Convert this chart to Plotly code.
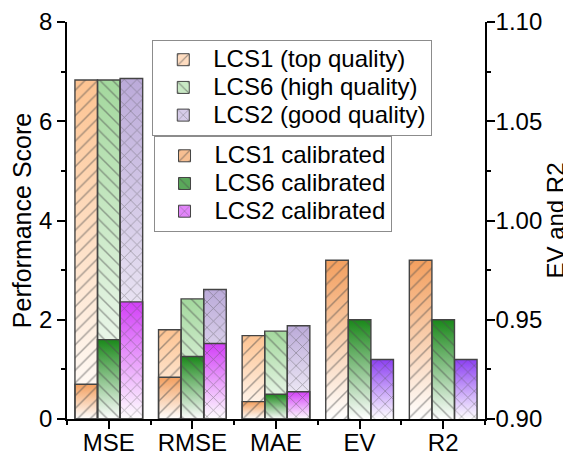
import plotly.graph_objects as go

# ---------------- data ----------------
categories = ["MSE", "RMSE", "MAE", "EV", "R2"]
error_idx = [0, 1, 2]          # MSE, RMSE, MAE -> left axis
fit_idx = [3, 4]               # EV, R2 -> right axis

raw_labels = ["LCS1 (top quality)", "LCS6 (high quality)", "LCS2 (good quality)"]
cal_labels = ["LCS1 calibrated", "LCS6 calibrated", "LCS2 calibrated"]

raw_lcs1 = [6.83, 1.80, 1.68]
raw_lcs6 = [6.83, 2.42, 1.77]
raw_lcs2 = [6.86, 2.61, 1.88]

cal_lcs1 = [0.70, 0.84, 0.35]
cal_lcs6 = [1.60, 1.26, 0.50]
cal_lcs2 = [2.36, 1.52, 0.55]

fit_lcs1 = [0.98, 0.98]
fit_lcs6 = [0.95, 0.95]
fit_lcs2 = [0.93, 0.93]

left_ticks = [0, 2, 4, 6, 8]
right_ticks = [0.90, 0.95, 1.00, 1.05, 1.10]

raw_series = [raw_lcs1, raw_lcs6, raw_lcs2]
cal_series = [cal_lcs1, cal_lcs6, cal_lcs2]
fit_series = [fit_lcs1, fit_lcs6, fit_lcs2]

# ---------------- style ----------------
FONT = "Liberation Sans, Arial, sans-serif"
raw_colors = ["#fdc391", "#a3d89d", "#bbaad9"]
raw_legend_colors = ["#fedcc0", "#c8e8c4", "#d6cce9"]
cal_colors = ["#f39f5e", "#1a881a", "#d23ff7"]
cal_legend_colors = ["#f7bf92", "#5aa85a", "#e285fa"]
fit_colors = ["#f39f5e", "#1a881a", "#8c3ff2"]
patterns = ["/", "\\", "x"]
EDGE = "#444444"
HATCH = "#4d4d4d"
BAR_W = 0.27
offsets = [-1.5 * BAR_W + i * BAR_W for i in range(3)]
LEFT_FLOOR = left_ticks[0]
RIGHT_FLOOR = right_ticks[0]


def gradient_trace(xc, off, top, base, color, yaxis):
    x0 = xc + off
    x1 = x0 + BAR_W
    return go.Scatter(
        x=[x0, x1, x1, x0, x0], y=[base, base, top, top, base],
        mode="lines", line=dict(width=0), fill="toself",
        fillgradient=dict(type="vertical",
                          colorscale=[[0, "rgba(255,255,255,1)"], [1, color]]),
        hoverinfo="skip", showlegend=False, xaxis="x", yaxis=yaxis)


def pattern(i):
    return dict(shape=patterns[i], fgcolor=HATCH, size=9, solidity=0.16,
                fillmode="overlay")


def big(label):
    return f'<span style="font-size:24px">{label}</span>'


fig = go.Figure()

# gradient fills (base subplot x/y, then x/y2)
for i in range(3):
    for k, xc in enumerate(error_idx):
        fig.add_trace(gradient_trace(xc, offsets[i], raw_series[i][k], LEFT_FLOOR, raw_colors[i], "y"))
for i in range(3):
    for k, xc in enumerate(error_idx):
        fig.add_trace(gradient_trace(xc, offsets[i], cal_series[i][k], LEFT_FLOOR, cal_colors[i], "y"))
for i in range(3):
    for k, xc in enumerate(fit_idx):
        fig.add_trace(gradient_trace(xc, offsets[i], fit_series[i][k], RIGHT_FLOOR, fit_colors[i], "y2"))

# hatched / outlined bars (overlaid subplots)
for i in range(3):
    fig.add_trace(go.Bar(
        x=error_idx, y=raw_series[i], offset=offsets[i], width=BAR_W,
        marker=dict(color="rgba(0,0,0,0)", line=dict(color=EDGE, width=1.4),
                    pattern=pattern(i)),
        hoverinfo="skip", showlegend=False, xaxis="x", yaxis="y3"))
for i in range(3):
    fig.add_trace(go.Bar(
        x=error_idx, y=cal_series[i], offset=offsets[i], width=BAR_W,
        marker=dict(color="rgba(0,0,0,0)", line=dict(color=EDGE, width=1.4)),
        hoverinfo="skip", showlegend=False, xaxis="x", yaxis="y3"))
for i in range(3):
    fig.add_trace(go.Bar(
        x=fit_idx, y=fit_series[i], offset=offsets[i], width=BAR_W,
        marker=dict(color="rgba(0,0,0,0)", line=dict(color=EDGE, width=1.4),
                    pattern=pattern(i)),
        hoverinfo="skip", showlegend=False, xaxis="x", yaxis="y4"))

# legend entries
for i in range(3):
    fig.add_trace(go.Bar(
        x=[None], y=[None], name=big(raw_labels[i]), legend="legend",
        marker=dict(color=raw_legend_colors[i], line=dict(color=EDGE, width=1),
                    pattern=pattern(i)),
        xaxis="x", yaxis="y3"))
for i in range(3):
    fig.add_trace(go.Bar(
        x=[None], y=[None], name=big(cal_labels[i]), legend="legend2",
        marker=dict(color=cal_legend_colors[i], line=dict(color=EDGE, width=1),
                    pattern=pattern(i)),
        xaxis="x", yaxis="y3"))

axis_common = dict(showline=True, linecolor="black", linewidth=1.5,
                   ticks="outside", ticklen=8, tickwidth=1.5, tickcolor="black",
                   showgrid=False, zeroline=False, automargin=False,
                   ticklabeloverflow="allow",
                   tickfont=dict(size=24, color="black", family=FONT))

legend_common = dict(xanchor="left", yanchor="top", bgcolor="white",
                     bordercolor="#8c8c8c", borderwidth=1, itemwidth=50,
                     font=dict(size=19, family=FONT, color="black"),
                     tracegroupgap=0)

fig.update_layout(
    template="none",
    width=563, height=452,
    margin=dict(l=59, r=86, t=14, b=41, autoexpand=False),
    paper_bgcolor="white", plot_bgcolor="white",
    barmode="overlay",
    font=dict(family=FONT, color="black"),
    xaxis=dict(range=[-0.5, 4.5], tickvals=list(range(len(categories))),
               ticktext=categories, ticklabelstandoff=-7,
               minor=dict(tick0=-0.5, dtick=1, ticks="outside", ticklen=4,
                          tickwidth=1.5, tickcolor="black", showgrid=False),
               **axis_common),
    yaxis=dict(range=[left_ticks[0], left_ticks[-1]], tickvals=left_ticks,
               minor=dict(dtick=1, ticks="outside", ticklen=4, tickwidth=1.5,
                          tickcolor="black", showgrid=False),
               title=dict(text="Performance Score", font=dict(size=25), standoff=8),
               **axis_common),
    yaxis2=dict(overlaying="y", side="right",
                range=[right_ticks[0], right_ticks[-1]], tickvals=right_ticks,
                ticktext=[f"{v:.2f}" for v in right_ticks], ticklabelstandoff=-4,
                minor=dict(dtick=0.025, ticks="outside", ticklen=4, tickwidth=1.5,
                           tickcolor="black", showgrid=False),
                title=dict(text="EV and R2", font=dict(size=24), standoff=0),
                **axis_common),
    yaxis3=dict(overlaying="y", range=[left_ticks[0], left_ticks[-1]], visible=False),
    yaxis4=dict(overlaying="y", range=[right_ticks[0], right_ticks[-1]], visible=False),
    legend=dict(x=0.204, y=0.955, **legend_common),
    legend2=dict(x=0.207, y=0.713, **legend_common),
    showlegend=True,
)

fig.write_html("out.html")
